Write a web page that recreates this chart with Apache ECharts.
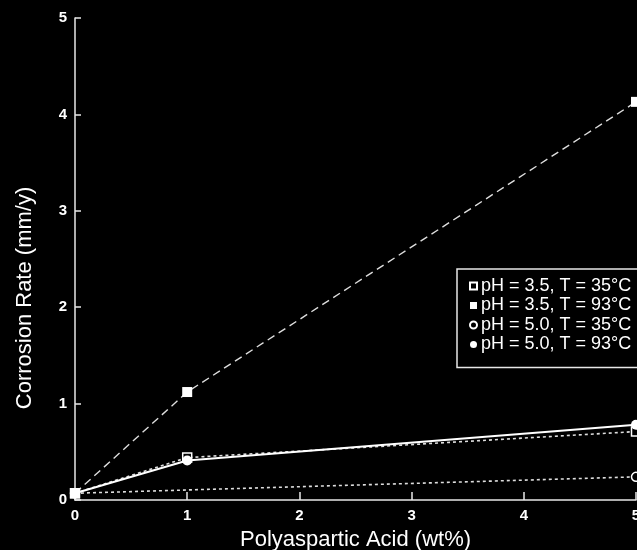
<!DOCTYPE html>
<html>
<head>
<meta charset="utf-8">
<script src="https://cdn.jsdelivr.net/npm/echarts@6/dist/echarts.min.js"></script>
<style>
  html, body { margin: 0; padding: 0; background: #000; }
  #chart { width: 637px; height: 550px; }
</style>
</head>
<body>
<div id="chart"></div>
<script>
// Polyaspartic acid concentration (wt%)
const acidWt = [0, 1, 5];
const acidWtLow = [0, 5];

// Corrosion rates (mm/y)
const ph35T35 = [0.07, 0.44, 0.71];
const ph35T93 = [0.07, 1.12, 4.13];
const ph50T35 = [0.07, 0.24];
const ph50T93 = [0.07, 0.41, 0.78];

const seriesNames = [
  'pH = 3.5, T = 35°C',
  'pH = 3.5, T = 93°C',
  'pH = 5.0, T = 35°C',
  'pH = 5.0, T = 93°C'
];

const xTicks = ['0', '1', '2', '3', '4', '5'];
const yTicks = ['0', '1', '2', '3', '4', '5'];

const pairs = (xs, ys) => xs.map((x, i) => [x, ys[i]]);
const FONT = 'Liberation Sans, Arial, Helvetica, sans-serif';

const chart = echarts.init(document.getElementById('chart'));

chart.setOption({
  backgroundColor: '#000',
  animation: false,
  grid: { left: 75, right: 1, top: 18, bottom: 50, outerBoundsMode: 'none', containLabel: false },
  xAxis: {
    type: 'value', min: 0, max: 5, interval: 1,
    name: 'Polyaspartic Acid (wt%)',
    nameLocation: 'middle', nameGap: 29,
    nameTextStyle: { color: '#fff', fontSize: 22, fontFamily: FONT },
    axisLine: { lineStyle: { color: '#e8e8e8', width: 1.5 } },
    axisTick: { inside: true, length: 8, lineStyle: { color: '#e8e8e8', width: 1.5 } },
    axisLabel: {
      color: '#fff', fontSize: 15, fontWeight: 'bold', fontFamily: FONT, margin: 8,
      formatter: v => xTicks[Math.round(v)]
    },
    splitLine: { show: false }
  },
  yAxis: {
    type: 'value', min: 0, max: 5, interval: 1,
    name: 'Corrosion Rate (mm/y)',
    nameLocation: 'middle', nameGap: 39,
    nameTextStyle: { color: '#fff', fontSize: 22, fontFamily: FONT, padding: [0, 78, 0, 0] },
    axisLine: { show: true, lineStyle: { color: '#e8e8e8', width: 1.5 } },
    axisTick: { show: true, inside: true, length: 6, lineStyle: { color: '#e8e8e8', width: 1.5 } },
    axisLabel: {
      color: '#fff', fontSize: 15, fontWeight: 'bold', fontFamily: FONT, margin: 8,
      formatter: v => yTicks[Math.round(v)]
    },
    splitLine: { show: false }
  },
  legend: {
    left: 457, top: 269,
    orient: 'vertical',
    backgroundColor: '#000',
    borderColor: '#e8e8e8', borderWidth: 1.5,
    padding: [8, 20, 14, 12],
    itemWidth: 7, itemHeight: 7, itemGap: 1.5,
    textStyle: { color: '#fff', fontSize: 18, fontFamily: FONT, lineHeight: 17, padding: [0, 0, 0, -1] },
    data: [
      { name: seriesNames[0], icon: 'rect' },
      { name: seriesNames[1], icon: 'rect' },
      { name: seriesNames[2], icon: 'circle' },
      { name: seriesNames[3], icon: 'circle' }
    ]
  },
  series: [
    {
      name: seriesNames[1], type: 'line',
      data: pairs(acidWt, ph35T93),
      symbol: 'rect', symbolSize: 10,
      itemStyle: { color: '#fff' },
      lineStyle: { color: '#ddd', width: 1.4, type: [8, 5] },
      z: 3
    },
    {
      name: seriesNames[3], type: 'line',
      data: pairs(acidWt, ph50T93),
      symbol: 'circle', symbolSize: 10,
      itemStyle: { color: '#fff' },
      lineStyle: { color: '#fff', width: 2, type: 'solid' },
      z: 4
    },
    {
      name: seriesNames[0], type: 'line',
      data: pairs(acidWt, ph35T35),
      symbol: 'rect', symbolSize: 9,
      itemStyle: { color: '#000', borderColor: '#fff', borderWidth: 1.5 },
      lineStyle: { color: '#ddd', width: 1.6, type: [3, 3] },
      z: 3
    },
    {
      name: seriesNames[2], type: 'line',
      data: pairs(acidWtLow, ph50T35),
      symbol: 'circle', symbolSize: 9,
      itemStyle: { color: '#000', borderColor: '#fff', borderWidth: 1.5 },
      lineStyle: { color: '#ddd', width: 1.6, type: [3, 3] },
      z: 3
    },
    {
      // marker drawn on top at the common origin point
      name: seriesNames[1], type: 'line',
      data: [[acidWt[0], ph35T93[0]]],
      symbol: 'rect', symbolSize: 10,
      itemStyle: { color: '#fff' },
      lineStyle: { width: 0 },
      z: 6
    }
  ]
});
</script>
</body>
</html>
